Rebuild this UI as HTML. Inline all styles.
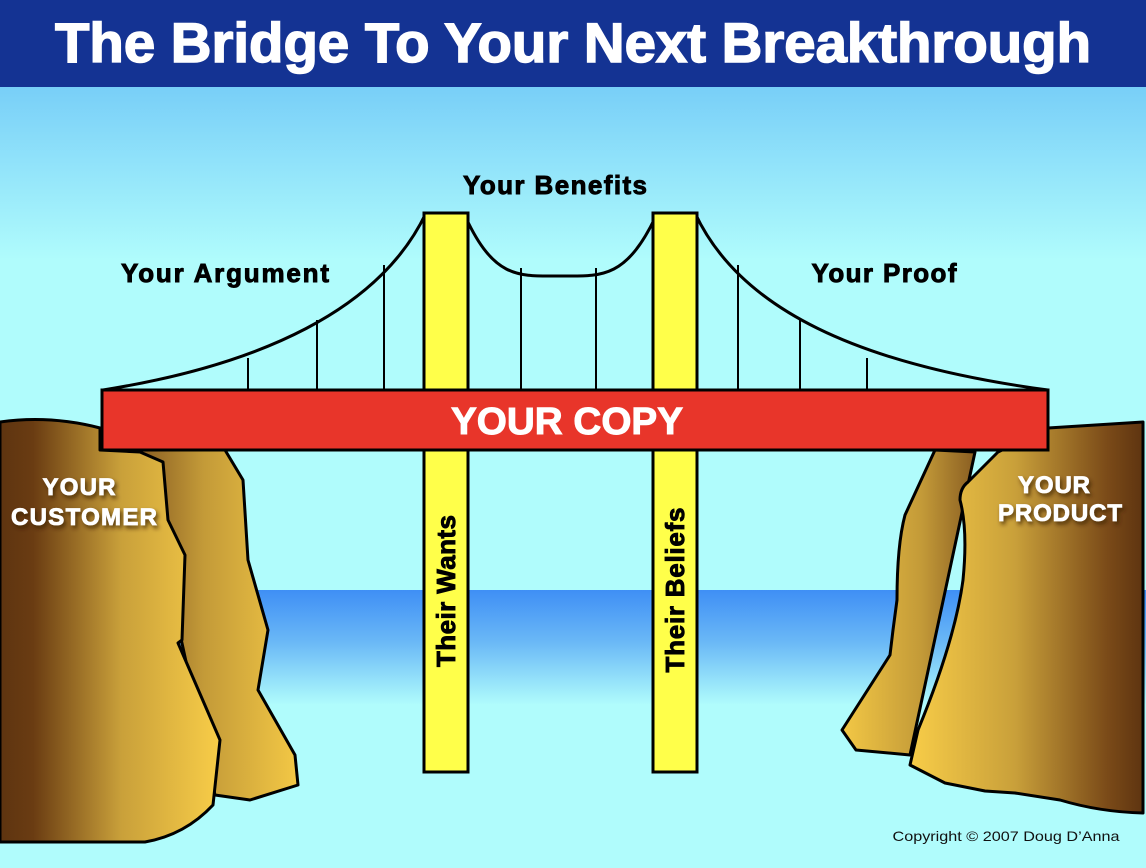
<!DOCTYPE html>
<html><head><style>html,body{margin:0;padding:0;}svg{display:block}</style></head>
<body>
<svg width="1146" height="868" viewBox="0 0 1146 868" xmlns="http://www.w3.org/2000/svg" font-family="Liberation Sans, Arial, sans-serif">
<defs>
<linearGradient id="sky" x1="0" y1="0" x2="0" y2="1">
<stop offset="0" stop-color="#5cb8f6"/><stop offset="0.3" stop-color="#b0fcfc"/><stop offset="1" stop-color="#b0fcfc"/>
</linearGradient>
<linearGradient id="water" x1="0" y1="0" x2="0" y2="1">
<stop offset="0" stop-color="#3f8ff5"/><stop offset="0.45" stop-color="#6ab8f6"/><stop offset="1" stop-color="#b0fcfc"/>
</linearGradient>
<linearGradient id="rockL" x1="0" y1="0" x2="1" y2="0">
<stop offset="0" stop-color="#5e3410"/><stop offset="0.15" stop-color="#6a3c12"/><stop offset="0.55" stop-color="#c9a03a"/><stop offset="1" stop-color="#f8cd48"/>
</linearGradient>
<linearGradient id="rockLb" x1="0" y1="0" x2="1" y2="0">
<stop offset="0" stop-color="#8a5e22"/><stop offset="0.4" stop-color="#c39a38"/><stop offset="1" stop-color="#f3c845"/>
</linearGradient>
<linearGradient id="rockR" x1="0" y1="0" x2="1" y2="0">
<stop offset="0" stop-color="#f8cd48"/><stop offset="0.45" stop-color="#c9a03a"/><stop offset="0.85" stop-color="#7a4a18"/><stop offset="1" stop-color="#5e3410"/>
</linearGradient>
<linearGradient id="rockRb" x1="0" y1="0" x2="1" y2="0">
<stop offset="0" stop-color="#f3c845"/><stop offset="0.6" stop-color="#c39a38"/><stop offset="1" stop-color="#8a5e22"/>
</linearGradient>
<filter id="sh" x="-10%" y="-30%" width="130%" height="160%"><feDropShadow dx="2" dy="3" stdDeviation="2" flood-color="#3a2000" flood-opacity="0.8"/></filter>
</defs>
<rect x="0" y="0" width="1146" height="868" fill="url(#sky)"/>
<rect x="0" y="590" width="1146" height="115" fill="url(#water)"/>
<rect x="0" y="0" width="1146" height="87" fill="#143393"/>
<text x="573" y="62" text-anchor="middle" font-size="56" font-weight="bold" fill="#fff" stroke="#fff" stroke-width="1.5" textLength="1036" lengthAdjust="spacingAndGlyphs">The Bridge To Your Next Breakthrough</text>

<path d="M140,450 L225,450 L243,480 L248,560 L268,630 L258,690 L295,755 L298,785 L250,800 L215,795 Z" fill="url(#rockLb)" stroke="#000" stroke-width="3" stroke-linejoin="round"/>
<path d="M0,422 Q50,415 100,428 L100,450 L140,452 L163,462 L168,520 L185,555 L182,640 L178,643 L220,740 L213,805 Q185,835 145,842 L0,842 Z" fill="url(#rockL)" stroke="#000" stroke-width="3" stroke-linejoin="round"/>
<path d="M935,450 L905,515 Q897,545 897,600 L893,630 L890,655 L842,730 L856,750 L910,755 L975,452 Z" fill="url(#rockRb)" stroke="#000" stroke-width="3" stroke-linejoin="round"/>
<path d="M1048,428 L1143,422 L1143,813 Q1100,812 1060,800 L1015,793 L985,791 L945,783 L910,765 L918,730 Q955,640 963,580 Q968,530 960,500 Q960,488 968,482 L998,452 Z" fill="url(#rockR)" stroke="#000" stroke-width="3" stroke-linejoin="round"/>

<g stroke="#000" stroke-width="2" fill="none">
<line x1="248" y1="358" x2="248" y2="390"/><line x1="317" y1="320" x2="317" y2="390"/><line x1="384" y1="265" x2="384" y2="390"/>
<line x1="521" y1="268" x2="521" y2="390"/><line x1="596" y1="268" x2="596" y2="390"/>
<line x1="738" y1="265" x2="738" y2="390"/><line x1="800" y1="320" x2="800" y2="390"/><line x1="867" y1="358" x2="867" y2="390"/>
</g>
<g stroke="#000" stroke-width="3" fill="none">
<path d="M103,390 C260,365 380,310 426,213"/>
<path d="M466,218 C495,280 520,276 560,276 C600,276 625,280 655,218"/>
<path d="M695,213 C740,310 860,365 1048,390"/>
</g>

<rect x="424" y="213" width="44" height="559" fill="#ffff4a" stroke="#000" stroke-width="3"/>
<rect x="653" y="213" width="44" height="559" fill="#ffff4a" stroke="#000" stroke-width="3"/>
<rect x="102" y="390" width="946" height="60" fill="#e8352a" stroke="#000" stroke-width="3"/>
<text x="567" y="434" text-anchor="middle" font-size="38" font-weight="bold" fill="#fff" stroke="#fff" stroke-width="1" textLength="232" lengthAdjust="spacingAndGlyphs">YOUR COPY</text>

<g font-size="26" font-weight="bold" fill="#000" stroke="#000" stroke-width="0.9" text-anchor="middle" lengthAdjust="spacingAndGlyphs">
<text transform="translate(455,591) rotate(-90)" textLength="152">Their Wants</text>
<text transform="translate(684,590) rotate(-90)" textLength="165">Their Beliefs</text>
<text x="555" y="194" textLength="184">Your Benefits</text>
<text x="225" y="282" textLength="208">Your Argument</text>
<text x="884" y="282" textLength="145">Your Proof</text>
</g>

<g font-size="24" font-weight="bold" fill="#fff" stroke="#fff" stroke-width="0.8" filter="url(#sh)" text-anchor="middle" lengthAdjust="spacingAndGlyphs">
<text x="79" y="495" textLength="73">YOUR</text>
<text x="84" y="525" textLength="146">CUSTOMER</text>
<text x="1054" y="493" textLength="72">YOUR</text>
<text x="1060" y="521" textLength="124">PRODUCT</text>
</g>
<text x="1006" y="841" text-anchor="middle" font-size="14" fill="#111" textLength="227" lengthAdjust="spacingAndGlyphs">Copyright © 2007 Doug D’Anna</text>
</svg>
</body></html>
